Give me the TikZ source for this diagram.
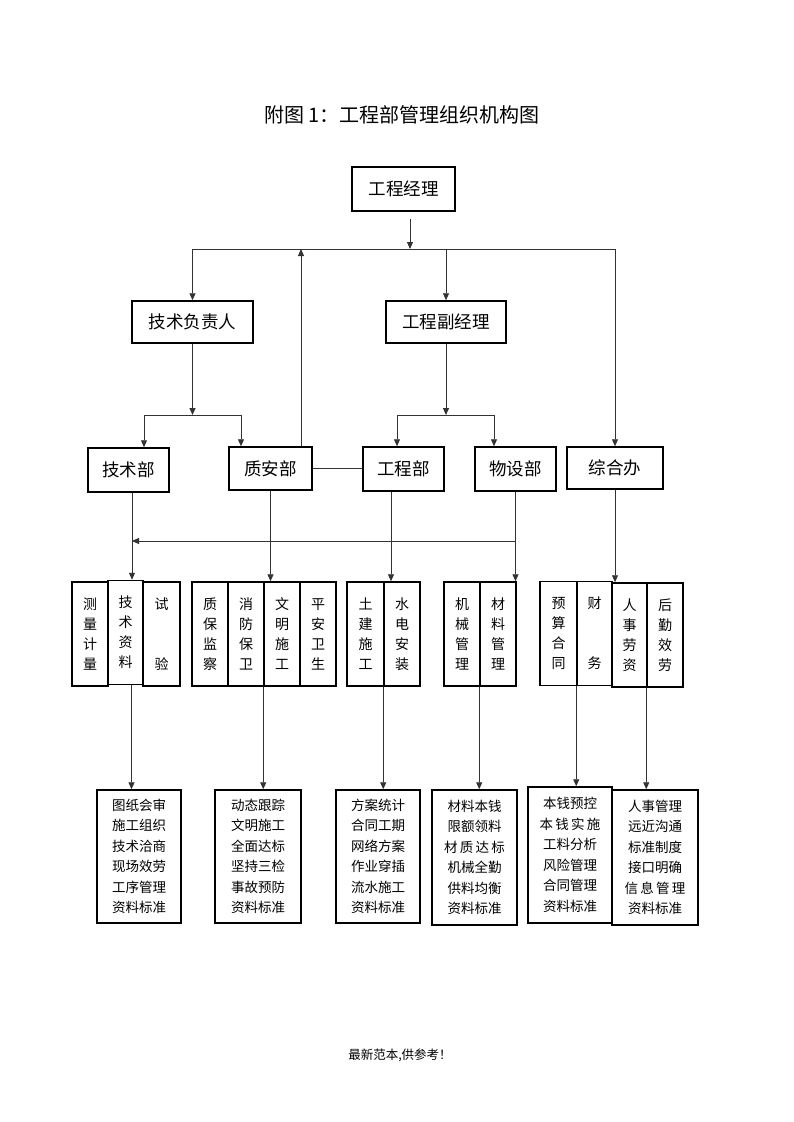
\documentclass[tikz,border=0pt]{standalone}
\usepackage{fontspec}
\setmainfont{Noto Sans CJK SC}
\usetikzlibrary{arrows.meta}

\begin{document}
\begin{tikzpicture}[x=1pt,y=-1pt,
      box/.style={draw, line width=1.5pt, inner sep=0pt, align=center},
      head/.style={box, font=\fontsize{17.5}{20}\selectfont},
      cell/.style={box, minimum width=36pt, minimum height=104pt, font=\fontsize{14}{20}\selectfont},
      duty/.style={box, minimum width=85pt, minimum height=134pt, font=\fontsize{13.5}{20.5}\selectfont},
      link/.style={draw=black!80, line width=0.9pt},
      arr/.style={link, -{Triangle[length=7pt,width=6pt]}}]
    \useasboundingbox (0,0) rectangle (793,1122);
    \node (title) at (402,115) {\fontsize{20}{22}\selectfont 附图 1：工程部管理组织机构图};
    \node[head, minimum width=103pt, minimum height=44pt] (gm) at (403.5,189) {工程经理};
    \node[head, minimum width=121pt, minimum height=42pt] (jsfz) at (192.5,322) {技术负责人};
    \node[head, minimum width=120pt, minimum height=42pt] (fjl) at (446,322) {工程副经理};
    \node[head, minimum width=81pt, minimum height=44pt] (jsb) at (128.5,470) {技术部};
    \node[head, minimum width=83pt, minimum height=43pt] (zab) at (270.5,468.5) {质安部};
    \node[head, minimum width=81pt, minimum height=44pt] (gcb) at (403.5,469) {工程部};
    \node[head, minimum width=81pt, minimum height=44pt] (wsb) at (515.5,469) {物设部};
    \node[head, minimum width=96pt, minimum height=42pt] (zhb) at (615,468) {综合办};
    \node[cell] (c11) at (90,634) {测\\量\\计\\量};
    \node[cell, minimum width=35pt] (c12) at (125.5,632.5) {技\\术\\资\\料};
    \node[cell, minimum width=37pt] (c13) at (161.5,634) {试\\[40pt]验};
    \node[cell] (c21) at (210,634) {质\\保\\监\\察};
    \node[cell] (c22) at (246,634) {消\\防\\保\\卫};
    \node[cell] (c23) at (282,634) {文\\明\\施\\工};
    \node[cell] (c24) at (318,634) {平\\安\\卫\\生};
    \node[cell, minimum width=37pt] (c31) at (365.5,634) {土\\建\\施\\工};
    \node[cell] (c32) at (402,634) {水\\电\\安\\装};
    \node[cell] (c41) at (462,634) {机\\械\\管\\理};
    \node[cell] (c42) at (498,634) {材\\料\\管\\理};
    \node[cell, minimum width=37pt] (c51) at (558.5,633.5) {预\\算\\合\\同};
    \node[cell, minimum width=35pt] (c52) at (594.5,633.5) {财\\[40pt]务};
    \node[cell, minimum width=35pt] (c53) at (629.5,635) {人\\事\\劳\\资};
    \node[cell] (c54) at (665,635) {后\\勤\\效\\劳};
    \node[duty, minimum width=84pt, minimum height=133pt] (b1) at (139,856.5)
      {图纸会审\\施工组织\\技术洽商\\现场效劳\\工序管理\\资料标准};
    \node[duty, minimum width=86pt, minimum height=133pt] (b2) at (258,856.5)
      {动态跟踪\\文明施工\\全面达标\\坚持三检\\事故预防\\资料标准};
    \node[duty, minimum width=84pt, minimum height=133pt] (b3) at (378,856.5)
      {方案统计\\合同工期\\网络方案\\作业穿插\\流水施工\\资料标准};
    \node[duty, minimum height=135pt] (b4) at (474.5,857.5)
      {材料本钱\\限额领料\\材\kern2.3pt 质\kern2.3pt 达\kern2.3pt 标\\机械全勤\\供料均衡\\资料标准};
    \node[duty, minimum width=84pt, minimum height=136pt] (b5) at (570,855)
      {本钱预控\\本\kern2.3pt 钱\kern2.3pt 实\kern2.3pt 施\\工料分析\\风险管理\\合同管理\\资料标准};
    \node[duty, minimum width=86pt, minimum height=135pt] (b6) at (655,857.5)
      {人事管理\\远近沟通\\标准制度\\接口明确\\信\kern2.3pt 息\kern2.3pt 管\kern2.3pt 理\\资料标准};
    \node (foot) at (400,1055) {\fontsize{12.5}{14}\selectfont 最新范本,供参考！};
    \coordinate (bus) at (410,249);
    \coordinate (gmout) at ([yshift=-7pt]gm.south);
    \coordinate (upx) at (301,249);
    \coordinate (j1) at (192.5,415);
    \coordinate (j1l) at (144,415);
    \coordinate (j1r) at (241,415);
    \coordinate (j2) at (446,415);
    \coordinate (j2l) at (397,415);
    \coordinate (j2r) at (494,415);
    \coordinate (h1) at (132,541);
    \draw[arr] (gmout -| bus) -- (bus);
    \draw[link] (bus -| jsfz.north) -- (bus -| zhb.north);
    \draw[arr] (bus -| jsfz.north) -- (jsfz.north);
    \draw[arr] (bus -| fjl.north) -- (fjl.north);
    \draw[arr] (bus -| zhb.north) -- (zhb.north);
    \draw[arr] (zab.north -| upx) -- (upx);
    \draw[arr] (jsfz.south) -- (j1);
    \draw[link] (j1l) -- (j1r);
    \draw[arr] (j1l) -- (j1l |- jsb.north);
    \draw[arr] (j1r) -- (j1r |- zab.north);
    \draw[arr] (fjl.south) -- (j2);
    \draw[link] (j2l) -- (j2r);
    \draw[arr] (j2l) -- (j2l |- gcb.north);
    \draw[arr] (j2r) -- (j2r |- wsb.north);
    \draw[link] (zab.east) -- (zab.east -| gcb.west);
    \draw[arr] (jsb.south -| h1) -- (h1 |- c12.north);
    \draw[arr] (zab.south) -- (zab.south |- c23.north);
    \draw[arr] ([xshift=-12.5pt]gcb.south) -- ([xshift=-12.5pt]gcb.south |- c32.north);
    \draw[arr] (wsb.south) -- (wsb.south |- c42.north);
    \draw[arr] (zhb.south) -- (zhb.south |- c53.north);
    \draw[arr] (wsb.south |- h1) -- (h1);
    \draw[arr] ([xshift=6pt]c12.south) -- ([xshift=6pt]c12.south |- b1.north);
    \draw[arr] (c23.south west) -- (c23.south west |- b2.north);
    \draw[arr] (c32.south west) -- (c32.south west |- b3.north);
    \draw[arr] (c42.south west) -- (c42.south west |- b4.north);
    \draw[arr] (c52.south west) -- (c52.south west |- b5.north);
    \draw[arr] (c54.south west) -- (c54.south west |- b6.north);
\end{tikzpicture}
\end{document}
